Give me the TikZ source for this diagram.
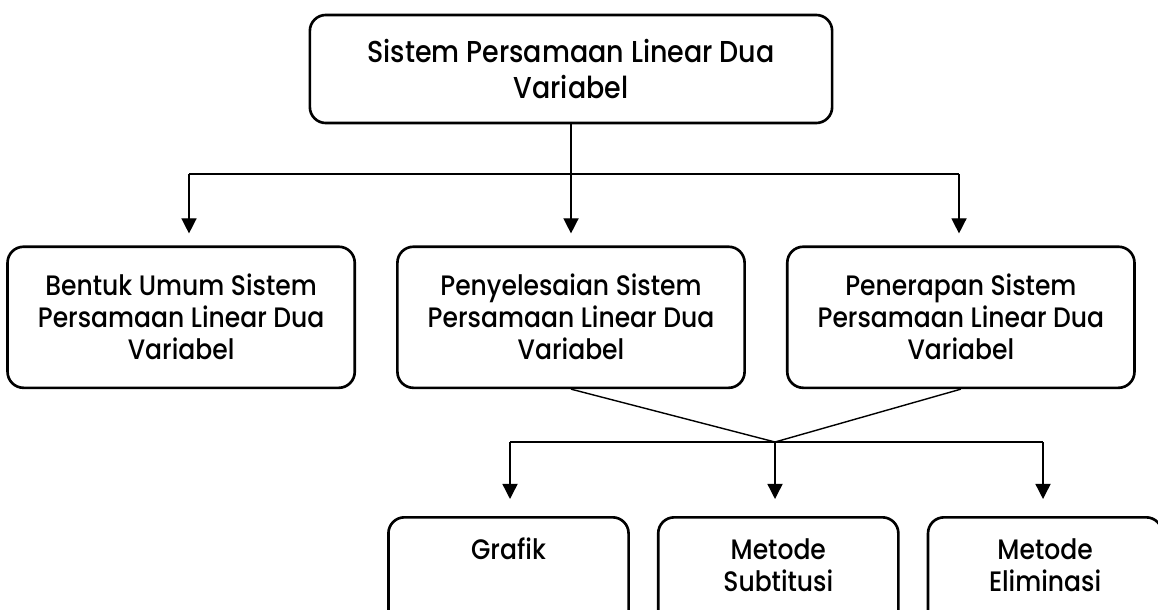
\documentclass[tikz,border=0pt]{standalone}
\usepackage{fontspec}
\setmainfont{Poppins}[UprightFont=* Medium, FakeStretch=0.89]
\usetikzlibrary{arrows.meta, positioning}

\begin{document}
\begin{tikzpicture}[x=0.01cm, y=-0.01cm, node distance = 12.1mm and 4mm]
      \tikzstyle{box} = [draw, rounded corners=1.6mm, line width=0.75pt, align=center, font=\fontsize{8}{9.1}\selectfont]
      \tikzstyle{main} = [box, minimum width=52.2mm, minimum height=10.8mm, font=\fontsize{8.6}{10.2}\selectfont]
      \tikzstyle{topic} = [box, minimum width=34.7mm, minimum height=14.1mm]
      \tikzstyle{method} = [box, text width=24mm, inner xsep=0pt, inner ysep=2.2mm, text height=2mm, text depth=7mm]
      \tikzstyle{line} = [line width=0.4pt]
      \tikzstyle{connect} = [-{Triangle[width=4.3pt, length=4.3pt]}, line width=0.4pt]
      \useasboundingbox (0,0) rectangle (1158,609);
      % boxes
      \node[main] (spldv) at (571,69) {Sistem Persamaan Linear Dua\\Variabel};
      \node[topic, below=of spldv] (solusi) {Penyelesaian Sistem\\Persamaan Linear Dua\\Variabel};
      \node[topic, left=of solusi] (bentuk) {Bentuk Umum Sistem\\Persamaan Linear Dua\\Variabel};
      \node[topic, right=of solusi] (terapan) {Penerapan Sistem\\Persamaan Linear Dua\\Variabel};
      \node[method, anchor=north] (grafik) at (508.5,516) {Grafik};
      \node[method, right=2.7mm of grafik] (subtitusi) {Metode\\Subtitusi};
      \node[method, right=2.7mm of subtitusi, text width=23.4mm] (eliminasi) {Metode\\Eliminasi};
      % branch points
      \coordinate (splitL) at (189,174);
      \coordinate (splitR) at (959,174);
      \coordinate (merge) at (775,442);
      \coordinate (mergeL) at (510,442);
      \coordinate (mergeR) at (1043,442);
      % connectors
      \draw[line] (splitL) -- (splitR);
      \draw[connect] (spldv.south) -- ([yshift=1.2mm]spldv.south |- solusi.north);
      \draw[connect] (splitL) -- ([yshift=1.2mm]splitL |- bentuk.north);
      \draw[connect] (splitR) -- ([yshift=1.2mm]splitR |- terapan.north);
      \draw[line] (solusi.south) -- (merge) -- (terapan.south);
      \draw[line] (mergeL) -- (mergeR);
      \draw[connect] (mergeL) -- ([yshift=1.7mm]mergeL |- grafik.north);
      \draw[connect] (merge) -- ([yshift=1.7mm]merge |- subtitusi.north);
      \draw[connect] (mergeR) -- ([yshift=1.7mm]mergeR |- eliminasi.north);
    \end{tikzpicture}
\end{document}
